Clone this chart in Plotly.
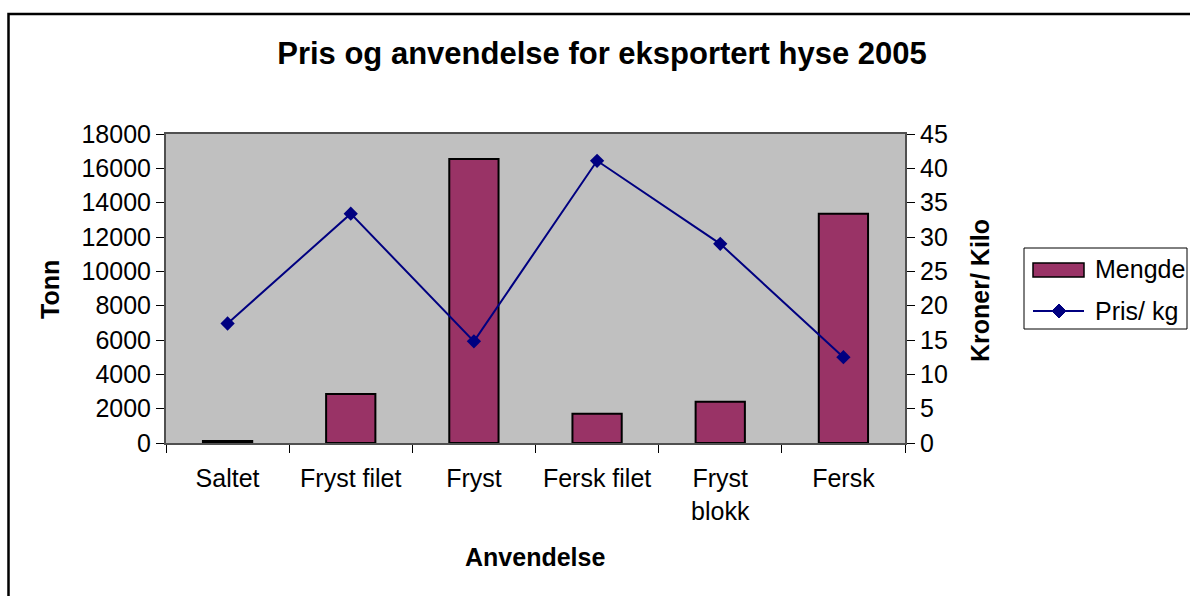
import plotly.graph_objects as go

categories = ["Saltet", "Fryst filet", "Fryst", "Fersk filet", "Fryst<br>blokk", "Fersk"]
mengde_tonn = [110, 2850, 16550, 1700, 2400, 13350]
pris_kg = [17.4, 33.4, 14.8, 41.1, 29.0, 12.5]

FONT = "Liberation Sans, Arial, sans-serif"
W, H = 1190, 596
L, R, T, B = 166, 905, 134, 443
BAR_COLOR = "#993366"
LINE_COLOR = "#000080"


def px_x(p):
    # reference pixel -> paper x
    return (p - L) / (R - L)


def px_y(p):
    # reference pixel -> paper y
    return (B - p) / (B - T)


fig = go.Figure()
fig.add_trace(
    go.Bar(
        x=categories,
        y=mengde_tonn,
        name="Mengde",
        width=0.4,
        marker={"color": BAR_COLOR, "line": {"color": "#000000", "width": 2}},
        yaxis="y",
    )
)
fig.add_trace(
    go.Scatter(
        x=categories,
        y=pris_kg,
        name="Pris/ kg",
        mode="lines+markers",
        line={"color": LINE_COLOR, "width": 2},
        marker={"symbol": "diamond", "size": 11, "color": LINE_COLOR},
        yaxis="y2",
    )
)

axis_common = {
    "showgrid": False,
    "zeroline": False,
    "showline": True,
    "linecolor": "#505050",
    "linewidth": 2,
    "ticks": "outside",
    "ticklen": 8,
    "tickcolor": "#000000",
    "tickfont": {"size": 25},
}

# hand-drawn legend (Excel style: wide bar swatch)
lx0, lx1, ly0, ly1 = 1024, 1187, 248, 329
shapes = [
    {
        "type": "rect", "xref": "paper", "yref": "paper",
        "x0": px_x(8.5), "x1": px_x(1215), "y0": px_y(640), "y1": px_y(14),
        "line": {"color": "#000000", "width": 2.5}, "fillcolor": "rgba(0,0,0,0)", "layer": "below",
    },
    {
        "type": "rect", "xref": "paper", "yref": "paper",
        "x0": px_x(lx0), "x1": px_x(lx1), "y0": px_y(ly1), "y1": px_y(ly0),
        "line": {"color": "#000000", "width": 1}, "fillcolor": "#ffffff",
    },
    {
        "type": "rect", "xref": "paper", "yref": "paper",
        "x0": px_x(1033), "x1": px_x(1084), "y0": px_y(277), "y1": px_y(263),
        "line": {"color": "#000000", "width": 1.5}, "fillcolor": BAR_COLOR,
    },
    {
        "type": "line", "xref": "paper", "yref": "paper",
        "x0": px_x(1033), "x1": px_x(1084), "y0": px_y(311), "y1": px_y(311),
        "line": {"color": LINE_COLOR, "width": 2},
    },
    {
        "type": "path", "xref": "paper", "yref": "paper",
        "path": "M {a},{b} L {c},{d} L {a},{e} L {f},{d} Z".format(
            a=px_x(1059), b=px_y(304), c=px_x(1066), d=px_y(311), e=px_y(318), f=px_x(1052)
        ),
        "line": {"color": LINE_COLOR, "width": 1}, "fillcolor": LINE_COLOR,
    },
]

annotations = [
    {"text": "<b>Tonn</b>", "x": px_x(50), "y": px_y(290), "textangle": -90},
    {"text": "<b>Kroner/ Kilo</b>", "x": px_x(980), "y": px_y(290), "textangle": -90},
    {"text": "<b>Anvendelse</b>", "x": px_x(535), "y": px_y(557)},
    {"text": "Mengde", "x": px_x(1093), "y": px_y(269), "xanchor": "left"},
    {"text": "Pris/ kg", "x": px_x(1093), "y": px_y(311), "xanchor": "left"},
]
for a in annotations:
    a.update({"xref": "paper", "yref": "paper", "showarrow": False, "font": {"size": 25}})
    a.setdefault("xanchor", "center")
    a.setdefault("yanchor", "middle")

fig.update_layout(
    width=W,
    height=H,
    margin={"l": L, "r": W - R, "t": T, "b": H - B, "pad": 0},
    paper_bgcolor="#ffffff",
    plot_bgcolor="#c0c0c0",
    font={"family": FONT, "size": 25, "color": "#000000"},
    title={
        "text": "<b>Pris og anvendelse for eksportert hyse 2005</b>",
        "font": {"size": 31, "family": FONT},
        "x": px_x(602),
        "xanchor": "center",
        "xref": "paper",
        "y": 1 - 53 / H,
        "yanchor": "middle",
    },
    showlegend=False,
    xaxis={**axis_common, "mirror": True, "tickson": "boundaries", "ticklabelstandoff": 12},
    yaxis={**axis_common, "range": [0, 18000], "dtick": 2000, "tickformat": "d"},
    yaxis2={
        **axis_common,
        "range": [0, 45],
        "dtick": 5,
        "overlaying": "y",
        "side": "right",
    },
    shapes=shapes,
    annotations=annotations,
)

# drop the default page margin so the figure fills the window exactly
fig.write_html(
    "out.html",
    config={"displayModeBar": False},
    post_script="document.body.style.margin='0';document.body.style.overflow='hidden';",
)
